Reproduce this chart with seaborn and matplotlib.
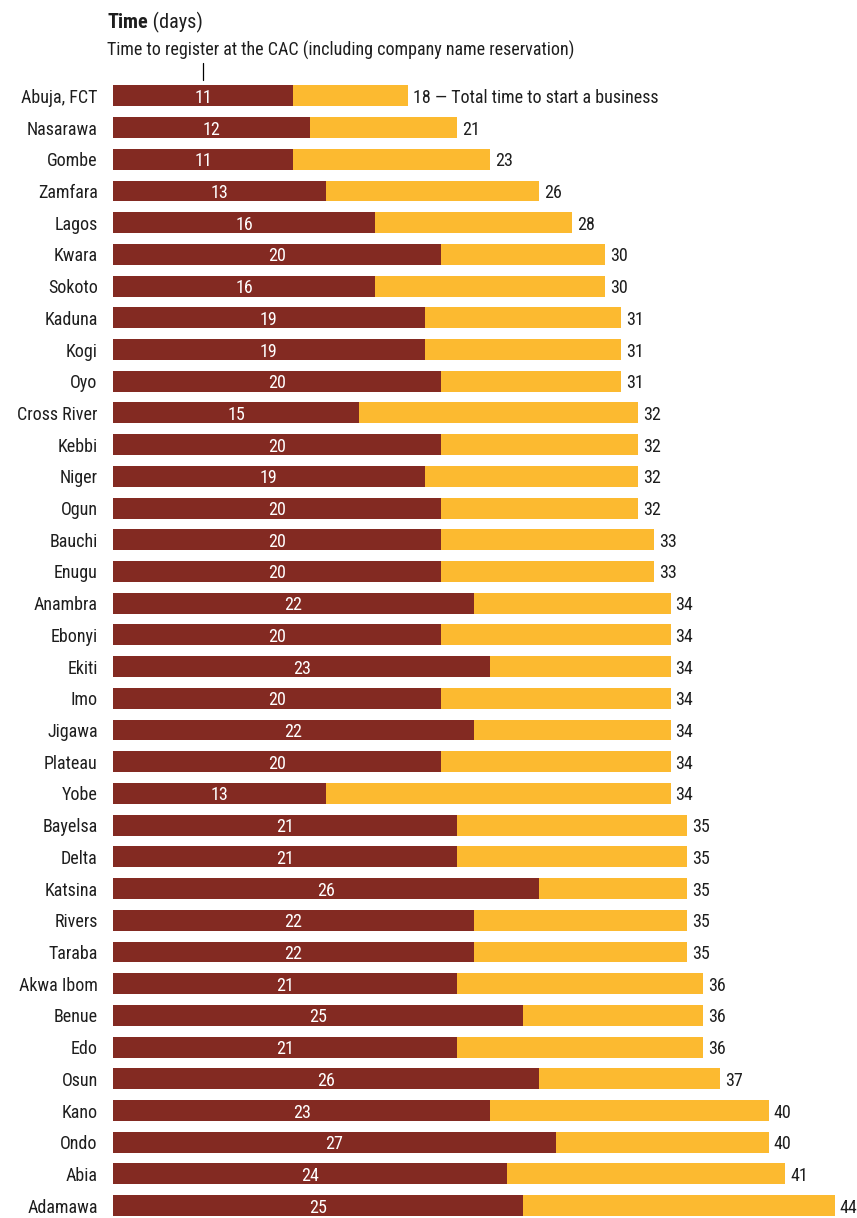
import numpy as np
import pandas as pd
import matplotlib
matplotlib.use("Agg")
import matplotlib.pyplot as plt
from matplotlib import font_manager as fm
import seaborn as sns

# Data
negara_bagian = ["Abuja, FCT", "Nasarawa", "Gombe", "Zamfara", "Lagos", "Kwara", "Sokoto",
                 "Kaduna", "Kogi", "Oyo", "Cross River", "Kebbi", "Niger", "Ogun", "Bauchi",
                 "Enugu", "Anambra", "Ebonyi", "Ekiti", "Imo", "Jigawa", "Plateau", "Yobe",
                 "Bayelsa", "Delta", "Katsina", "Rivers", "Taraba", "Akwa Ibom", "Benue",
                 "Edo", "Osun", "Kano", "Ondo", "Abia", "Adamawa"]
waktu_cac = [11, 12, 11, 13, 16, 20, 16, 19, 19, 20, 15, 20, 19, 20, 20, 20, 22, 20, 23, 20,
             22, 20, 13, 21, 21, 26, 22, 22, 21, 25, 21, 26, 23, 27, 24, 25]
waktu_total = [18, 21, 23, 26, 28, 30, 30, 31, 31, 31, 32, 32, 32, 32, 33, 33, 34, 34, 34, 34,
               34, 34, 34, 35, 35, 35, 35, 35, 36, 36, 36, 37, 40, 40, 41, 44]

df = pd.DataFrame({"state": negara_bagian, "cac": waktu_cac, "total": waktu_total})

warna_merah = "#832A22"
warna_kuning = "#FCBA30"
warna_teks = "#1E1E1E"

# Cari font sempit (condensed) yang tersedia
daftar_font = fm.fontManager.ttflist
nama_font = {f.name for f in daftar_font}
font_pakai, regang, ukuran = "DejaVu Sans", "normal", 11
for kandidat in ["Liberation Sans Narrow", "Roboto Condensed", "Open Sans Condensed",
                 "Noto Sans Condensed", "DejaVu Sans Condensed"]:
    if kandidat in nama_font:
        font_pakai, regang, ukuran = kandidat, "normal", 13
        break
else:
    for kandidat in ["Roboto", "Open Sans", "Noto Sans", "DejaVu Sans"]:
        ada = [f for f in daftar_font if f.name == kandidat
               and f.stretch in ("condensed", "semi-condensed", 75, 87.5)]
        if ada:
            font_pakai, regang, ukuran = kandidat, "condensed", 12.4
            break

sns.set_style("white")
plt.rcParams['font.family'] = [font_pakai, 'DejaVu Sans']
plt.rcParams['font.stretch'] = regang

fig = plt.figure(figsize=(8.57, 12.18), dpi=100)
ax = fig.add_axes([113 / 857, 0, 738 / 857, (1218 - 80) / 1218])

sns.barplot(data=df, x="total", y="state", color=warna_kuning, saturation=1,
            width=0.66, orient="h", linewidth=0, ax=ax)
sns.barplot(data=df, x="cac", y="state", color=warna_merah, saturation=1,
            width=0.66, orient="h", linewidth=0, ax=ax)

ax.set_xlim(0, 45)
ax.set_ylim(35.39, -0.5)
ax.set_xlabel("")
ax.set_ylabel("")
ax.set_xticks([])
ax.tick_params(axis="y", length=0, pad=11, labelsize=ukuran, labelcolor=warna_teks)
for lbl in ax.get_yticklabels():
    lbl.set_verticalalignment("center_baseline")
for s in ax.spines.values():
    s.set_visible(False)

# Label angka
for i, (c, t) in enumerate(zip(waktu_cac, waktu_total)):
    ax.text(c / 2, i, str(c), color="white", ha="center", va="center_baseline",
            fontsize=ukuran)
    label = str(t)
    if i == 0:
        label = f"{t} \u2014 Total time to start a business"
    ax.text(t + 0.3, i, label, color=warna_teks, ha="left", va="center_baseline",
            fontsize=ukuran, clip_on=False)

# Garis penunjuk
ax.plot([waktu_cac[0] / 2, waktu_cac[0] / 2], [-1.04, -0.5], color="black", lw=0.9,
        clip_on=False)

# Judul
judul = fig.text(107 / 857, 1 - 20 / 1218, "Time", fontsize=ukuran + 1.6,
                 fontweight="bold", va="center_baseline", ha="left", color=warna_teks)
ax.annotate(" (days)", xy=(1, 0.5), xycoords=judul, va="center", ha="left",
            fontsize=ukuran + 1.6, color=warna_teks)
fig.text(107 / 857, 1 - 48 / 1218,
         "Time to register at the CAC (including company name reservation)",
         fontsize=ukuran, va="center_baseline", ha="left", color=warna_teks)

fig.savefig("out.png", dpi=100)
